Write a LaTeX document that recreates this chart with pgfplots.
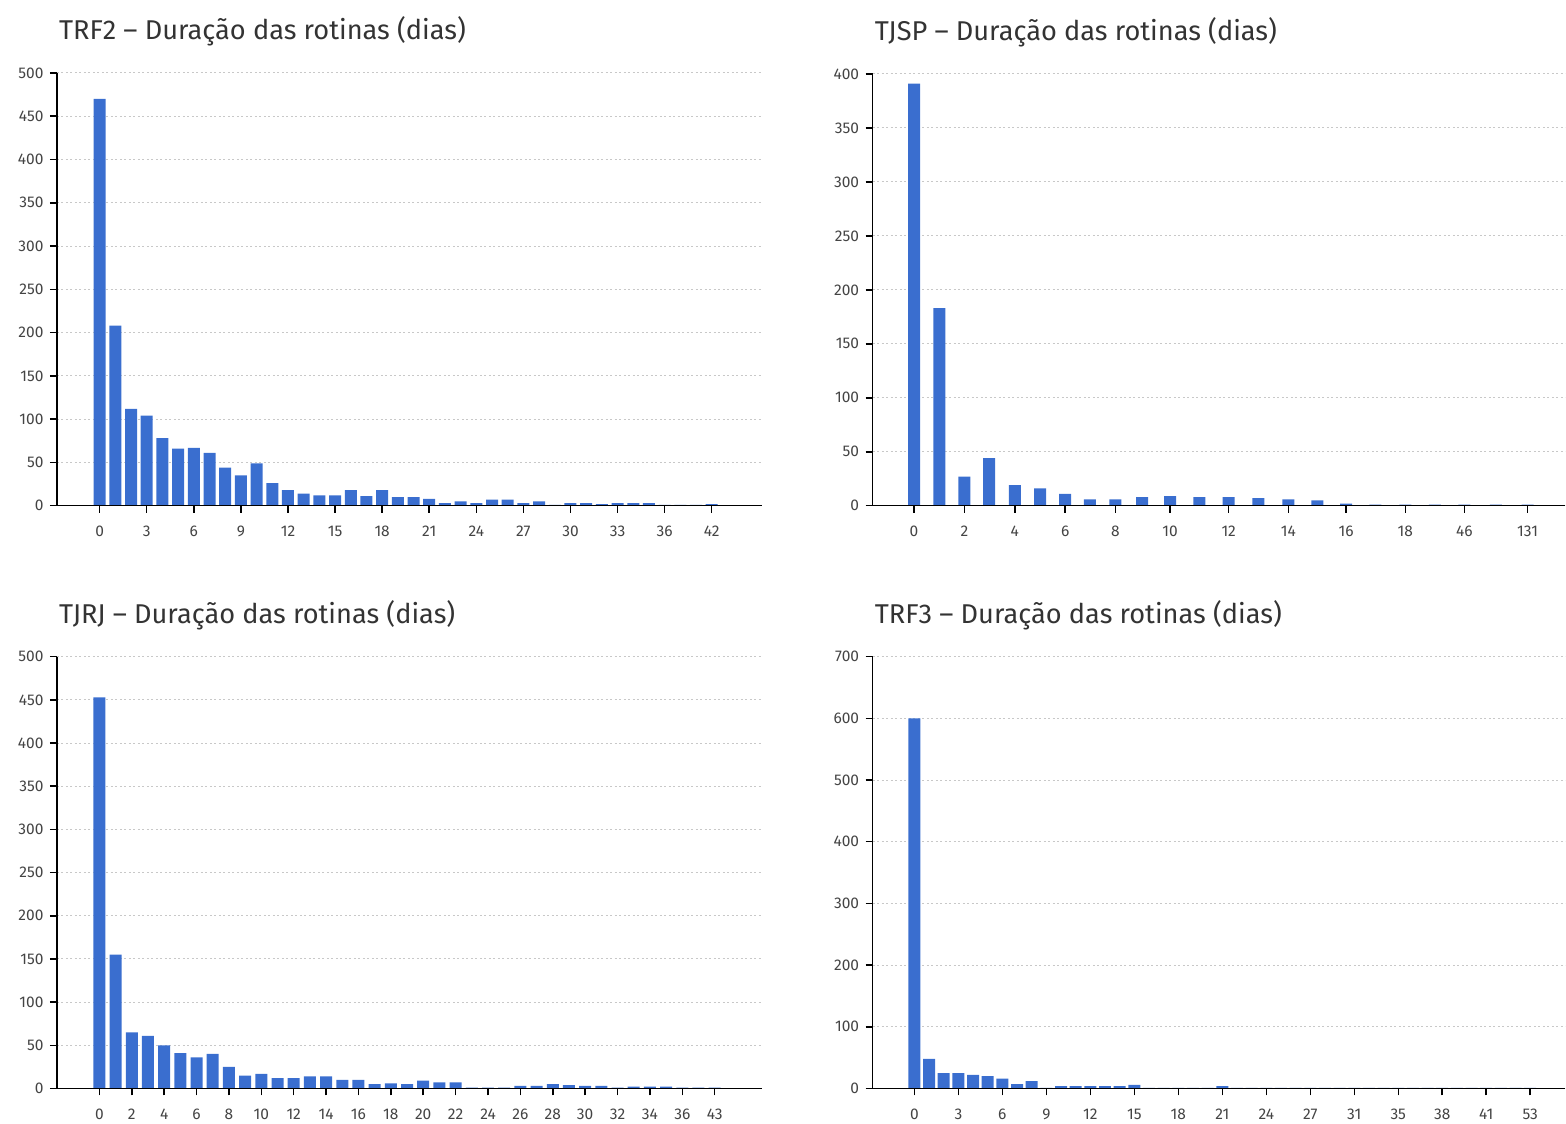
\documentclass[border=0pt]{standalone}
\usepackage{pgfplots}
\pgfplotsset{compat=1.18}
\usepackage{fontspec}
\setmainfont{Fira Sans}
\definecolor{barblue}{HTML}{3A6ECF}
\definecolor{txt}{HTML}{333333}
\definecolor{tick}{HTML}{444444}
\definecolor{gridc}{HTML}{C8C8C8}

\tikzset{axisfront/.style={line width=1.5pt, black}}

\pgfplotsset{
  panel/.style={
    scale only axis,
    anchor=south west,
    axis x line=bottom, axis y line=left,
    axis line style={-, line width=1.5pt, black},
    ybar, bar width=12pt, bar shift=0pt,
    ymin=0,
    ymajorgrids,
    grid style={gridc, line width=1pt, dash pattern=on 2pt off 2.5pt},
    tick style={black, line width=1.5pt},
    major tick length=7pt,
    tick align=outside,
    /pgf/number format/assume math mode=true,
    ticklabel style={font=\fontsize{15.5}{18}\selectfont, text=tick},
    yticklabel style={xshift=-3pt},
    xticklabel style={yshift=-10pt},
    title style={at={(0,1)}, anchor=base west, yshift=27.5pt, xshift=2pt,
      font=\fontsize{27.2}{32}\selectfont, text=txt, inner sep=0pt},
  },
}

% TRF2 (index, count)
\pgfplotstableread{
x y
0 470
1 208
2 112
3 104
4 78
5 66
6 67
7 61
8 44
9 35
10 49
11 26
12 18
13 14
14 12
15 12
16 18
17 11
18 18
19 10
20 10
21 8
22 3
23 5
24 3
25 7
26 7
27 3
28 5
29 1
30 3
31 3
32 2
33 3
34 3
35 3
36 1
37 1
38 1
39 2
}\trftwo

% TJSP (horizontal position, count)
\pgfplotstableread{
x y
41.5 391
66.7 183
91.9 27
116.6 44
142.3 19
167.5 16
192.7 11
217.4 6
243.0 6
269.7 8
297.7 9
327.0 8
356.3 8
386.0 7
416.0 6
445.0 5
473.7 2
503.0 1
533.0 1
562.5 1
592.0 1
623.5 1
655.3 1
}\tjsp

% TJRJ
\pgfplotstableread{
x y
0 453
1 155
2 65
3 61
4 50
5 41
6 36
7 40
8 25
9 15
10 17
11 12
12 12
13 14
14 14
15 10
16 10
17 5
18 6
19 5
20 9
21 7
22 7
23 1
24 1
25 1
26 3
27 3
28 5
29 4
30 3
31 3
32 1
33 2
34 2
35 2
36 1
37 1
38 1
}\tjrj

% TRF3
\pgfplotstableread{
x y
0 600
1 48
2 25
3 25
4 22
5 20
6 16
7 7
8 12
9 1
10 4
11 4
12 4
13 4
14 4
15 6
16 1
17 1
18 1
19 1
20 1
21 4
22 1
23 1
24 1
25 1
26 1
27 1
28 1
29 1
30 1
31 1
32 1
33 1
34 1
35 1
36 1
37 1
38 1
39 1
40 1
41 1
42 1
}\trfthree

\begin{document}
\begin{tikzpicture}

\begin{axis}[panel, at={(57pt,615pt)}, width=705pt, height=433pt,
  xmin=-2.72, xmax=42.18, ymax=500, ytick={0,50,...,500},
  xtick={0,3,...,36,39},
  xticklabels={0,3,6,9,12,15,18,21,24,27,30,33,36,42},
  title={TRF2 – Duração das rotinas (dias)}]
\addplot[fill=barblue, draw=none] table[x=x,y=y] {\trftwo};
\draw[axisfront] (rel axis cs:0,0) -- (rel axis cs:1,0);
\end{axis}

\begin{axis}[panel, at={(873pt,615pt)}, width=693pt, height=432pt,
  xmin=0, xmax=693, ymax=400, ytick={0,50,...,400},
  xtick={41.5,91.9,142.3,192.7,243.0,297.7,356.3,416.0,473.7,533.0,592.0,655.3},
  xticklabels={0,2,4,6,8,10,12,14,16,18,46,131},
  title={TJSP – Duração das rotinas (dias)}]
\addplot[fill=barblue, draw=none] table[x=x,y=y] {\tjsp};
\draw[axisfront] (rel axis cs:0,0) -- (rel axis cs:1,0);
\end{axis}

\begin{axis}[panel, at={(57pt,32pt)}, width=705pt, height=432pt,
  xmin=-2.62, xmax=40.9, ymax=500, ytick={0,50,...,500},
  xtick={0,2,...,36,38},
  xticklabels={0,2,4,6,8,10,12,14,16,18,20,22,24,26,28,30,32,34,36,43},
  title={TJRJ – Duração das rotinas (dias)}]
\addplot[fill=barblue, draw=none] table[x=x,y=y] {\tjrj};
\draw[axisfront] (rel axis cs:0,0) -- (rel axis cs:1,0);
\end{axis}

\begin{axis}[panel, at={(873pt,32pt)}, width=693pt, height=432pt,
  xmin=-2.85, xmax=44.39, ymax=700, ytick={0,100,...,700},
  xtick={0,3,6,9,12,15,18,21,24,27,30,33,36,39,42},
  xticklabels={0,3,6,9,12,15,18,21,24,27,31,35,38,41,53},
  title={TRF3 – Duração das rotinas (dias)}]
\addplot[fill=barblue, draw=none] table[x=x,y=y] {\trfthree};
\draw[axisfront] (rel axis cs:0,0) -- (rel axis cs:1,0);
\end{axis}

\useasboundingbox (0,0) rectangle (1566pt,1121pt);
\end{tikzpicture}
\end{document}
